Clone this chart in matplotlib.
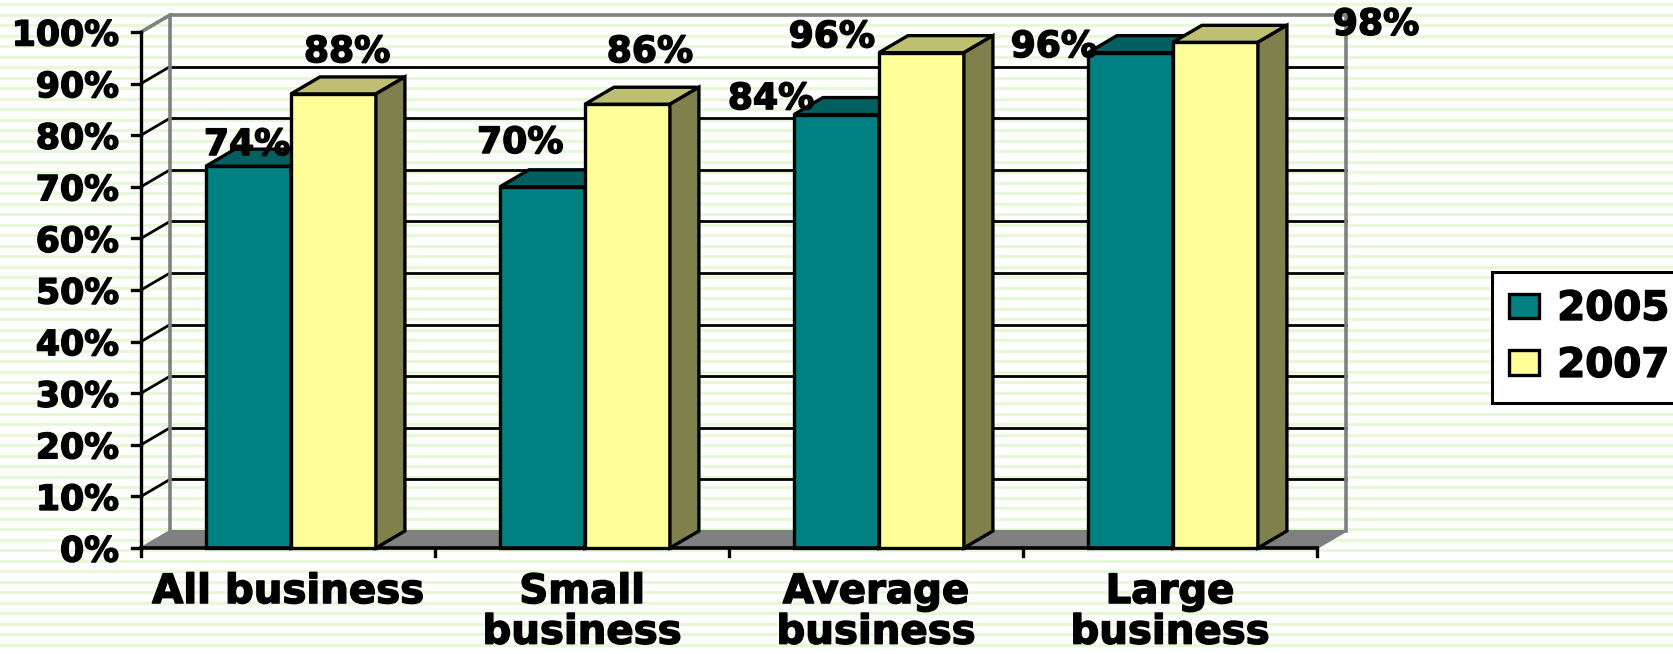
import matplotlib
import matplotlib.pyplot as plt
import matplotlib.patheffects as pe
import numpy as np
from matplotlib.patches import Polygon

matplotlib.use("Agg")

categories = ["All business", "Small\nbusiness", "Average\nbusiness", "Large\nbusiness"]
years = ["2005", "2007"]
share_2005 = [74, 70, 84, 96]
share_2007 = [88, 86, 96, 98]
y_ticks = [0, 10, 20, 30, 40, 50, 60, 70, 80, 90, 100]

# where each value label sits (category units, percent units)
label_pos_2005 = [(0.361, 78.1), (1.290, 78.5), (2.143, 87.0), (3.105, 97.1)]
label_pos_2007 = [(0.701, 96.1), (1.731, 96.1), (2.350, 99.0), (4.201, 101.4)]

TEAL, TEAL_TOP, TEAL_SIDE = "#008080", "#005f5f", "#004040"
YEL, YEL_TOP, YEL_SIDE = "#ffff99", "#bfbf73", "#80804d"
WALL = "#808080"

# pixel scale of the plot frame
PX_X, PX_Y = 294.0, 5.16
X0, Y0 = 141, 548
DX, DY = 29 / PX_X, 17 / PX_Y
W, H = 1673, 654
BAR_W = 0.289
PAIR_C = 0.51

heavy = [pe.withStroke(linewidth=1.1, foreground="black")]
txt = dict(fontweight="bold", clip_on=False, path_effects=heavy)

fig = plt.figure(figsize=(W / 100, H / 100), dpi=100)
fig.patch.set_facecolor("white")

# striped background
bg = fig.add_axes([0, 0, 1, 1], zorder=-5)
bg.set_xlim(0, W)
bg.set_ylim(H, 0)
bg.axis("off")
for yy in np.arange(4, H, 10.5):
    bg.axhline(yy, color="#e6f9d6", lw=2.0)

ax = fig.add_axes([0, 0, 1, 1])
ax.set_xlim(-X0 / PX_X, (W - X0) / PX_X)
ax.set_ylim((Y0 - H) / PX_Y, Y0 / PX_Y)
ax.axis("off")
ax.patch.set_alpha(0)

n = len(categories)
kw = dict(clip_on=False)

# floor
ax.add_patch(Polygon([(0, 0), (n, 0), (n + DX, DY), (DX, DY)], closed=True,
                     facecolor=WALL, edgecolor=WALL, lw=1.5, zorder=1, **kw))
# back wall gridlines and left wall slants
for t in y_ticks[1:-1]:
    ax.plot([DX, n + DX], [t + DY, t + DY], color="black", lw=2.0, zorder=1, **kw)
    ax.plot([0, DX], [t, t + DY], color="black", lw=2.0, zorder=1, **kw)
# wall outlines
ax.plot([DX, DX, n + DX, n + DX], [DY, 100 + DY, 100 + DY, DY], color=WALL, lw=2.6, zorder=1, **kw)
ax.plot([0, DX], [100, 100 + DY], color=WALL, lw=2.6, zorder=1, **kw)

# front value axis
ax.plot([0, 0], [0, 100], color="black", lw=2.4, zorder=4, **kw)
for t in y_ticks:
    ax.plot([-9 / PX_X, 0], [t, t], color="black", lw=2.4, zorder=4, **kw)
    ax.text(-22 / PX_X, t, f"{t}%", ha="right", va="center_baseline", fontsize=25, **txt)

# category axis
ax.plot([0, n], [0, 0], color="black", lw=2.6, zorder=4, **kw)
for i in range(n + 1):
    ax.plot([i, i], [0, -8 / PX_Y], color="black", lw=2.4, zorder=4, **kw)
for i, name in enumerate(categories):
    ax.text(i + 0.5, -24 / PX_Y, name, ha="center", va="top", fontsize=29,
            linespacing=1.02, **txt)

x = np.arange(n)
left_2005 = x + PAIR_C - BAR_W
left_2007 = x + PAIR_C
bars_05 = ax.bar(left_2005, share_2005, width=BAR_W, align="edge", color=TEAL,
                 edgecolor="black", lw=2.4, zorder=3, label=years[0])
bars_07 = ax.bar(left_2007, share_2007, width=BAR_W, align="edge", color=YEL,
                 edgecolor="black", lw=2.4, zorder=6, label=years[1])


def box_faces(left, val, top_c, side_c, z):
    r = left + BAR_W
    top = Polygon([(left, val), (r, val), (r + DX, val + DY), (left + DX, val + DY)],
                  closed=True, facecolor=top_c, edgecolor="black", lw=2.4, zorder=z)
    side = Polygon([(r, 0), (r + DX, DY), (r + DX, val + DY), (r, val)],
                   closed=True, facecolor=side_c, edgecolor="black", lw=2.4, zorder=z)
    ax.add_patch(top)
    ax.add_patch(side)


for i in range(n):
    box_faces(left_2005[i], share_2005[i], TEAL_TOP, TEAL_SIDE, 3)
    box_faces(left_2007[i], share_2007[i], YEL_TOP, YEL_SIDE, 6)

# value labels sit between the two series
for pos, v in zip(label_pos_2005, share_2005):
    ax.text(pos[0], pos[1], f"{v}%", ha="center", va="center", fontsize=26, zorder=5, **txt)
for pos, v in zip(label_pos_2007, share_2007):
    ax.text(pos[0], pos[1], f"{v}%", ha="center", va="center", fontsize=26, zorder=5, **txt)

leg = fig.legend(handles=[bars_05, bars_07], labels=years, loc="upper left",
                 bbox_to_anchor=(1492 / W, 1 - 272 / H), borderaxespad=0,
                 prop={"weight": "bold", "size": 29}, frameon=True,
                 fancybox=False, edgecolor="black", framealpha=1, borderpad=0.42,
                 handlelength=0.75, handleheight=0.55, handletextpad=0.45,
                 labelspacing=0.42)
leg.get_frame().set_linewidth(2.2)
for t in leg.get_texts():
    t.set_path_effects(heavy)

fig.savefig("out.png", dpi=100)
plt.close(fig)
